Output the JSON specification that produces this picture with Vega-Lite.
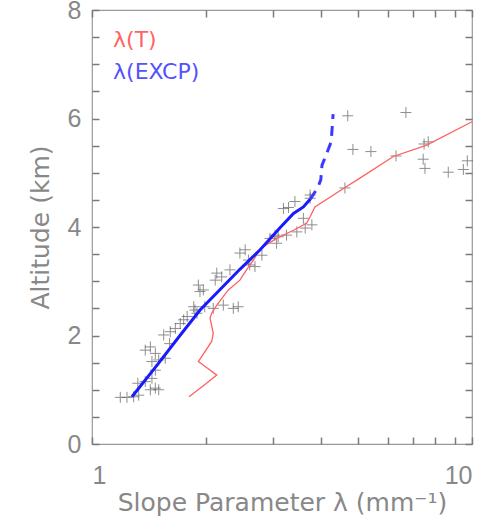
{
  "$schema": "https://vega.github.io/schema/vega-lite/v6.json",
  "width": 380,
  "height": 434,
  "autosize": "none",
  "padding": {"left": 92, "top": 10, "right": 26, "bottom": 75},
  "background": "white",
  "config": {
    "view": {"stroke": "#999", "strokeWidth": 1.2},
    "axis": {
      "domain": false,
      "ticks": true,
      "tickColor": "#7a7a7a",
      "labelColor": "#888",
      "titleColor": "#888",
      "labelFont": "Liberation Sans",
      "titleFont": "DejaVu Sans",
      "labelFontSize": 25,
      "titleFontSize": 25,
      "titleFontWeight": "normal",
      "grid": false,
      "tickSize": 7,
      "offset": -7,
      "tickWidth": 1.5,
      "tickOpacity": 1
    }
  },
  "datasets": {
    "pts": [
      {"lam": 1.187, "alt": 0.86}, {"lam": 1.236, "alt": 0.86}, {"lam": 1.287, "alt": 0.87}, {"lam": 1.327, "alt": 0.9},
      {"lam": 1.381, "alt": 1.15}, {"lam": 1.438, "alt": 1.21}, {"lam": 1.468, "alt": 1.03}, {"lam": 1.498, "alt": 1.0},
      {"lam": 1.424, "alt": 1.0}, {"lam": 1.32, "alt": 1.12},
      {"lam": 1.468, "alt": 1.36}, {"lam": 1.438, "alt": 1.52}, {"lam": 1.498, "alt": 1.55}, {"lam": 1.559, "alt": 1.58},
      {"lam": 1.381, "alt": 1.73}, {"lam": 1.424, "alt": 1.79}, {"lam": 1.468, "alt": 1.67}, {"lam": 1.6, "alt": 1.85},
      {"lam": 1.544, "alt": 2.01}, {"lam": 1.607, "alt": 2.07}, {"lam": 1.657, "alt": 2.13}, {"lam": 1.707, "alt": 2.22},
      {"lam": 1.743, "alt": 2.29}, {"lam": 1.78, "alt": 2.35},
      {"lam": 1.852, "alt": 2.53}, {"lam": 1.889, "alt": 2.41},
      {"lam": 1.866, "alt": 2.47}, {"lam": 1.98, "alt": 2.53}, {"lam": 2.085, "alt": 2.5}, {"lam": 2.216, "alt": 2.56},
      {"lam": 2.354, "alt": 2.5}, {"lam": 2.425, "alt": 2.53},
      {"lam": 1.905, "alt": 2.93}, {"lam": 1.963, "alt": 2.84}, {"lam": 1.924, "alt": 2.81},
      {"lam": 2.13, "alt": 3.15}, {"lam": 2.194, "alt": 3.08}, {"lam": 2.307, "alt": 3.21}, {"lam": 2.11, "alt": 3.02},
      {"lam": 2.53, "alt": 3.58}, {"lam": 2.58, "alt": 3.39}, {"lam": 2.685, "alt": 3.27}, {"lam": 2.6, "alt": 3.3},
      {"lam": 2.45, "alt": 3.52}, {"lam": 2.8, "alt": 3.48},
      {"lam": 2.94, "alt": 3.79}, {"lam": 3.06, "alt": 3.7}, {"lam": 3.03, "alt": 3.85},
      {"lam": 3.09, "alt": 3.82}, {"lam": 3.25, "alt": 3.85}, {"lam": 3.46, "alt": 3.91}, {"lam": 3.64, "alt": 3.98},
      {"lam": 3.79, "alt": 4.04}, {"lam": 3.6, "alt": 4.16},
      {"lam": 3.19, "alt": 4.34}, {"lam": 3.29, "alt": 4.36}, {"lam": 3.42, "alt": 4.47}, {"lam": 3.75, "alt": 4.53},
      {"lam": 3.75, "alt": 4.59}, {"lam": 4.63, "alt": 4.72},
      {"lam": 4.71, "alt": 6.05}, {"lam": 6.7, "alt": 6.11}, {"lam": 4.86, "alt": 5.43}, {"lam": 5.42, "alt": 5.39},
      {"lam": 6.31, "alt": 5.31}, {"lam": 7.48, "alt": 5.53}, {"lam": 7.67, "alt": 5.57}, {"lam": 7.44, "alt": 5.25},
      {"lam": 7.52, "alt": 5.08}, {"lam": 8.66, "alt": 5.01}, {"lam": 9.49, "alt": 5.06}, {"lam": 9.72, "alt": 5.22}
    ],
    "red": [
      {"o": 1, "lam": 1.8, "alt": 0.87}, {"o": 2, "lam": 1.96, "alt": 1.07}, {"o": 3, "lam": 2.13, "alt": 1.27},
      {"o": 4, "lam": 2.01, "alt": 1.4}, {"o": 5, "lam": 1.905, "alt": 1.52}, {"o": 6, "lam": 2.065, "alt": 1.89},
      {"o": 7, "lam": 2.085, "alt": 2.04}, {"o": 8, "lam": 2.045, "alt": 2.32}, {"o": 9, "lam": 2.065, "alt": 2.41},
      {"o": 10, "lam": 2.13, "alt": 2.56}, {"o": 11, "lam": 2.285, "alt": 2.84}, {"o": 12, "lam": 2.45, "alt": 3.02},
      {"o": 13, "lam": 2.55, "alt": 3.21}, {"o": 14, "lam": 2.66, "alt": 3.39}, {"o": 15, "lam": 2.77, "alt": 3.6},
      {"o": 16, "lam": 3.06, "alt": 3.79}, {"o": 17, "lam": 3.39, "alt": 3.94}, {"o": 18, "lam": 3.67, "alt": 4.07},
      {"o": 19, "lam": 3.75, "alt": 4.19}, {"o": 20, "lam": 3.86, "alt": 4.37}, {"o": 21, "lam": 4.59, "alt": 4.71},
      {"o": 22, "lam": 5.07, "alt": 4.9}, {"o": 23, "lam": 6.21, "alt": 5.3}, {"o": 24, "lam": 7.6, "alt": 5.51},
      {"o": 25, "lam": 10.0, "alt": 5.94}
    ],
    "blue": [
      {"o": 1, "lam": 1.274, "alt": 0.87}, {"o": 2, "lam": 1.48, "alt": 1.445}, {"o": 3, "lam": 1.7, "alt": 1.99},
      {"o": 4, "lam": 1.925, "alt": 2.47}, {"o": 5, "lam": 2.45, "alt": 3.22}, {"o": 6, "lam": 2.77, "alt": 3.58},
      {"o": 7, "lam": 3.12, "alt": 3.98}, {"o": 8, "lam": 3.39, "alt": 4.25}, {"o": 9, "lam": 3.6, "alt": 4.37},
      {"o": 10, "lam": 3.75, "alt": 4.51}
    ],
    "bluedash": [
      {"o": 1, "lam": 3.75, "alt": 4.51}, {"o": 2, "lam": 3.93, "alt": 4.73}, {"o": 3, "lam": 4.0, "alt": 4.87},
      {"o": 4, "lam": 4.03, "alt": 5.14}, {"o": 5, "lam": 4.17, "alt": 5.4}, {"o": 6, "lam": 4.26, "alt": 5.57},
      {"o": 7, "lam": 4.31, "alt": 6.08}
    ],
    "legend": [
      {"lam": 1.136, "alt": 7.45, "label": "λ(T)", "c": "red"},
      {"lam": 1.136, "alt": 6.85, "label": "λ(EXCP)", "c": "blue"}
    ]
  },
  "layer": [
    {
      "data": {"name": "pts"},
      "mark": {"type": "point", "shape": "M-1,0H1M0,-1V1", "filled": false, "stroke": "#444", "strokeWidth": 1, "opacity": 0.6, "size": 121},
      "encoding": {
        "x": {"field": "lam", "type": "quantitative", "scale": {"type": "log", "domain": [1, 10], "nice": false},
          "axis": {"orient": "bottom", "values": [1, 2, 3, 4, 5, 6, 7, 8, 9, 10], "labelExpr": "datum.value == 1 ? '1' : (datum.value == 10 ? '10' : '')", "labelPadding": 19, "title": "Slope Parameter λ (mm⁻¹)", "titlePadding": 2}},
        "y": {"field": "alt", "type": "quantitative", "scale": {"domain": [0, 8], "nice": false, "zero": false},
          "axis": {"orient": "left", "values": [0, 0.5, 1, 1.5, 2, 2.5, 3, 3.5, 4, 4.5, 5, 5.5, 6, 6.5, 7, 7.5, 8], "labelExpr": "datum.value % 2 == 0 ? format(datum.value, 'd') : ''", "labelPadding": 11, "title": "Altitude (km)", "titlePadding": 14}}
      }
    },
    {
      "data": {"name": "pts"},
      "mark": {"type": "point", "opacity": 0},
      "encoding": {
        "x": {"field": "lam", "type": "quantitative", "axis": {"orient": "top", "values": [1, 2, 3, 4, 5, 6, 7, 8, 9, 10], "labels": false, "title": null}},
        "y": {"field": "alt", "type": "quantitative", "axis": {"orient": "right", "values": [0, 0.5, 1, 1.5, 2, 2.5, 3, 3.5, 4, 4.5, 5, 5.5, 6, 6.5, 7, 7.5, 8], "labels": false, "title": null}}
      }
    },
    {
      "data": {"name": "red"},
      "mark": {"type": "line", "color": "#ff6161", "strokeWidth": 1.3},
      "encoding": {
        "x": {"field": "lam", "type": "quantitative", "axis": null},
        "y": {"field": "alt", "type": "quantitative", "axis": null},
        "order": {"field": "o"}
      }
    },
    {
      "data": {"name": "blue"},
      "mark": {"type": "line", "color": "#1a1aff", "strokeWidth": 3},
      "encoding": {
        "x": {"field": "lam", "type": "quantitative", "axis": null},
        "y": {"field": "alt", "type": "quantitative", "axis": null},
        "order": {"field": "o"}
      }
    },
    {
      "data": {"name": "bluedash"},
      "mark": {"type": "line", "color": "#3a3aff", "strokeWidth": 3, "strokeDash": [10, 7]},
      "encoding": {
        "x": {"field": "lam", "type": "quantitative", "axis": null},
        "y": {"field": "alt", "type": "quantitative", "axis": null},
        "order": {"field": "o"}
      }
    },
    {
      "data": {"name": "legend"},
      "mark": {"type": "text", "align": "left", "baseline": "middle", "font": "DejaVu Sans", "fontSize": 22},
      "encoding": {
        "x": {"field": "lam", "type": "quantitative", "axis": null},
        "y": {"field": "alt", "type": "quantitative", "axis": null},
        "text": {"field": "label"},
        "color": {"field": "c", "type": "nominal", "scale": {"domain": ["red", "blue"], "range": ["#ff6464", "#5252ff"]}, "legend": null}
      }
    }
  ],
  "resolve": {"axis": {"x": "independent", "y": "independent"}}
}
